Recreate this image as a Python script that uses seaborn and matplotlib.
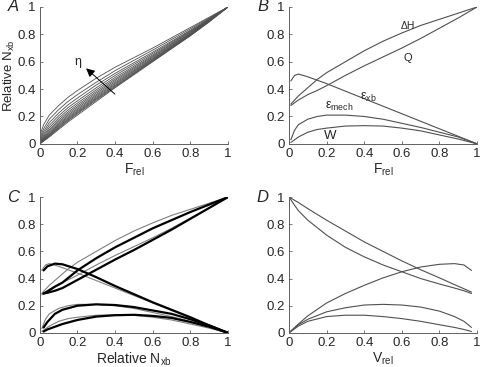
import matplotlib
matplotlib.use("Agg")
import matplotlib.pyplot as plt
import seaborn as sns

sns.set_style("ticks")
plt.rcParams["font.family"] = ["Liberation Sans", "DejaVu Sans"]
plt.rcParams["mathtext.fontset"] = "custom"
plt.rcParams["mathtext.rm"] = "Liberation Sans"
plt.rcParams["mathtext.it"] = "Liberation Sans:italic"

# Panel A: relative Nxb vs Frel for increasing eta
a_x = [0.005, 0.02, 0.05, 0.1, 0.15, 0.2, 0.3, 0.4, 0.6, 0.8, 0.9, 1.0]
a_curves = [
    [0.080, 0.140, 0.210, 0.280, 0.340, 0.390, 0.480, 0.560, 0.700, 0.850, 0.925, 1.0],
    [0.060, 0.110, 0.180, 0.250, 0.310, 0.360, 0.450, 0.535, 0.685, 0.840, 0.920, 1.0],
    [0.045, 0.090, 0.155, 0.225, 0.285, 0.335, 0.430, 0.515, 0.670, 0.830, 0.915, 1.0],
    [0.035, 0.075, 0.135, 0.205, 0.265, 0.315, 0.410, 0.500, 0.660, 0.825, 0.910, 1.0],
    [0.028, 0.062, 0.118, 0.188, 0.248, 0.298, 0.395, 0.485, 0.650, 0.820, 0.908, 1.0],
    [0.022, 0.052, 0.104, 0.174, 0.233, 0.284, 0.382, 0.473, 0.642, 0.815, 0.905, 1.0],
    [0.018, 0.044, 0.093, 0.162, 0.221, 0.272, 0.371, 0.463, 0.635, 0.810, 0.903, 1.0],
    [0.014, 0.038, 0.084, 0.151, 0.210, 0.261, 0.360, 0.453, 0.628, 0.806, 0.901, 1.0],
    [0.011, 0.033, 0.076, 0.142, 0.200, 0.251, 0.351, 0.444, 0.622, 0.802, 0.900, 1.0],
    [0.009, 0.029, 0.069, 0.134, 0.191, 0.242, 0.342, 0.436, 0.617, 0.799, 0.898, 1.0],
    [0.007, 0.026, 0.063, 0.126, 0.183, 0.234, 0.334, 0.428, 0.612, 0.796, 0.896, 1.0],
    [0.006, 0.023, 0.058, 0.119, 0.176, 0.227, 0.327, 0.421, 0.608, 0.793, 0.895, 1.0],
    [0.005, 0.021, 0.054, 0.113, 0.169, 0.220, 0.320, 0.415, 0.604, 0.790, 0.894, 1.0],
    [0.005, 0.020, 0.050, 0.105, 0.160, 0.210, 0.310, 0.410, 0.600, 0.790, 0.890, 1.0],
]

# Panel B: energetics vs Frel
b_x = [0.01, 0.03, 0.05, 0.1, 0.15, 0.2, 0.3, 0.4, 0.5, 0.6, 0.7, 0.8, 0.9, 1.0]
b_dH = [0.29, 0.32, 0.35, 0.41, 0.47, 0.52, 0.60, 0.68, 0.75, 0.81, 0.865, 0.91, 0.955, 1.0]
b_Q = [0.28, 0.30, 0.32, 0.36, 0.39, 0.425, 0.50, 0.57, 0.635, 0.70, 0.77, 0.845, 0.92, 1.0]
b_exb = [0.46, 0.50, 0.51, 0.49, 0.465, 0.44, 0.385, 0.33, 0.275, 0.22, 0.165, 0.11, 0.055, 0.0]
b_emech = [0.03, 0.10, 0.14, 0.18, 0.20, 0.21, 0.21, 0.20, 0.18, 0.15, 0.12, 0.085, 0.05, 0.0]
b_W = [0.01, 0.03, 0.05, 0.085, 0.105, 0.115, 0.13, 0.133, 0.13, 0.115, 0.095, 0.065, 0.035, 0.0]

# Panel C: same quantities vs relative Nxb (thick)
c_x = [0.02, 0.04, 0.08, 0.12, 0.2, 0.3, 0.4, 0.5, 0.6, 0.7, 0.8, 0.9, 1.0]
c_dH = [0.29, 0.305, 0.34, 0.37, 0.46, 0.55, 0.63, 0.70, 0.77, 0.83, 0.89, 0.945, 1.0]
c_Q = [0.29, 0.295, 0.31, 0.33, 0.39, 0.465, 0.54, 0.61, 0.685, 0.76, 0.84, 0.92, 1.0]
c_exb = [0.46, 0.49, 0.51, 0.505, 0.47, 0.41, 0.345, 0.285, 0.225, 0.17, 0.115, 0.055, 0.0]
c_emech = [0.04, 0.08, 0.14, 0.17, 0.20, 0.21, 0.205, 0.19, 0.165, 0.14, 0.10, 0.055, 0.0]
c_W = [0.01, 0.025, 0.045, 0.065, 0.095, 0.12, 0.13, 0.133, 0.125, 0.11, 0.08, 0.045, 0.0]

# Panel D: same quantities vs Vrel
d_x = [0.0, 0.05, 0.1, 0.2, 0.3, 0.4, 0.5, 0.6, 0.7, 0.8, 0.88, 0.93, 0.97]
d_dH = [1.0, 0.96, 0.915, 0.83, 0.75, 0.67, 0.60, 0.53, 0.465, 0.405, 0.355, 0.325, 0.30]
d_Q = [1.0, 0.90, 0.83, 0.72, 0.63, 0.56, 0.50, 0.45, 0.40, 0.36, 0.33, 0.31, 0.29]
d_exb = [0.0, 0.065, 0.125, 0.22, 0.29, 0.35, 0.405, 0.45, 0.485, 0.505, 0.51, 0.50, 0.46]
d_emech = [0.0, 0.06, 0.10, 0.155, 0.185, 0.205, 0.21, 0.205, 0.19, 0.16, 0.12, 0.085, 0.04]
d_W = [0.0, 0.05, 0.085, 0.12, 0.13, 0.13, 0.12, 0.105, 0.085, 0.06, 0.04, 0.025, 0.01]

ticks = [0, 0.2, 0.4, 0.6, 0.8, 1]
tick_labels = ["0", "0.2", "0.4", "0.6", "0.8", "1"]

line_col = "#505050"
axis_col = "#606060"

fig = plt.figure(figsize=(4.8, 3.67), dpi=100)
ax_a = fig.add_axes([0.083, 0.608, 0.392, 0.373])
ax_b = fig.add_axes([0.602, 0.608, 0.392, 0.373])
ax_c = fig.add_axes([0.083, 0.093, 0.392, 0.370])
ax_d = fig.add_axes([0.602, 0.093, 0.392, 0.370])


def style_axes(ax, letter, xlabel, ylabel=None):
    ax.set_xlim(0, 1)
    ax.set_ylim(0, 1)
    ax.set_xticks(ticks)
    ax.set_xticklabels(tick_labels)
    ax.set_yticks(ticks)
    ax.set_yticklabels(tick_labels)
    ax.tick_params(direction="in", length=2.5, width=0.6, color=axis_col,
                   labelsize=9.5)
    ax.tick_params(axis="x", pad=3)
    ax.tick_params(axis="y", pad=3)
    for side in ["top", "right"]:
        ax.spines[side].set_visible(False)
    for side in ["left", "bottom"]:
        ax.spines[side].set_color(axis_col)
        ax.spines[side].set_linewidth(0.7)
    ax.set_xlabel(xlabel, fontsize=10, labelpad=1)
    if ylabel:
        ax.set_ylabel(ylabel, fontsize=9.5, labelpad=0)
    ax.text(-0.14, 1.0, letter, transform=ax.transAxes, fontsize=12,
            style="italic", ha="center", va="center")


# A
for ys in a_curves:
    sns.lineplot(x=a_x, y=ys, ax=ax_a, color=line_col, lw=0.6, sort=False,
                 estimator=None)
ax_a.annotate("", xy=(0.235, 0.565), xytext=(0.41, 0.35),
              arrowprops=dict(arrowstyle="-|>,head_length=0.5,head_width=0.25",
                              color="black", lw=0.7))
ax_a.text(0.2, 0.6, "η", fontsize=9, ha="center", va="center")
style_axes(ax_a, "A", r"F$_{\rm rel}$", r"Relative N$_{\rm xb}$")

# B
for ys in [b_dH, b_Q, b_exb, b_emech, b_W]:
    sns.lineplot(x=b_x, y=ys, ax=ax_b, color=line_col, lw=0.8, sort=False,
                 estimator=None)
ax_b.text(0.63, 0.86, "ΔH", fontsize=7.5, ha="center", va="center")
ax_b.text(0.63, 0.63, "Q", fontsize=8, ha="center", va="center")
ax_b.text(0.42, 0.34, r"ε$_{\rm xb}$", fontsize=9, ha="center", va="center")
ax_b.text(0.27, 0.27, r"ε$_{\rm mech}$", fontsize=9, ha="center", va="center")
ax_b.text(0.22, 0.06, "W", fontsize=9.5, ha="center", va="center")
style_axes(ax_b, "B", r"F$_{\rm rel}$")

# C
for ys in [b_dH, b_Q, b_exb, b_emech, b_W]:
    sns.lineplot(x=b_x, y=ys, ax=ax_c, color="#808080", lw=0.8, sort=False,
                 estimator=None)
for ys in [c_dH, c_Q, c_exb, c_emech, c_W]:
    sns.lineplot(x=c_x, y=ys, ax=ax_c, color="black", lw=1.6, sort=False,
                 estimator=None)
style_axes(ax_c, "C", r"Relative N$_{\rm xb}$")

# D
for ys in [d_dH, d_Q, d_exb, d_emech, d_W]:
    sns.lineplot(x=d_x, y=ys, ax=ax_d, color=line_col, lw=0.8, sort=False,
                 estimator=None)
style_axes(ax_d, "D", r"V$_{\rm rel}$")

fig.savefig("out.png", dpi=100)
